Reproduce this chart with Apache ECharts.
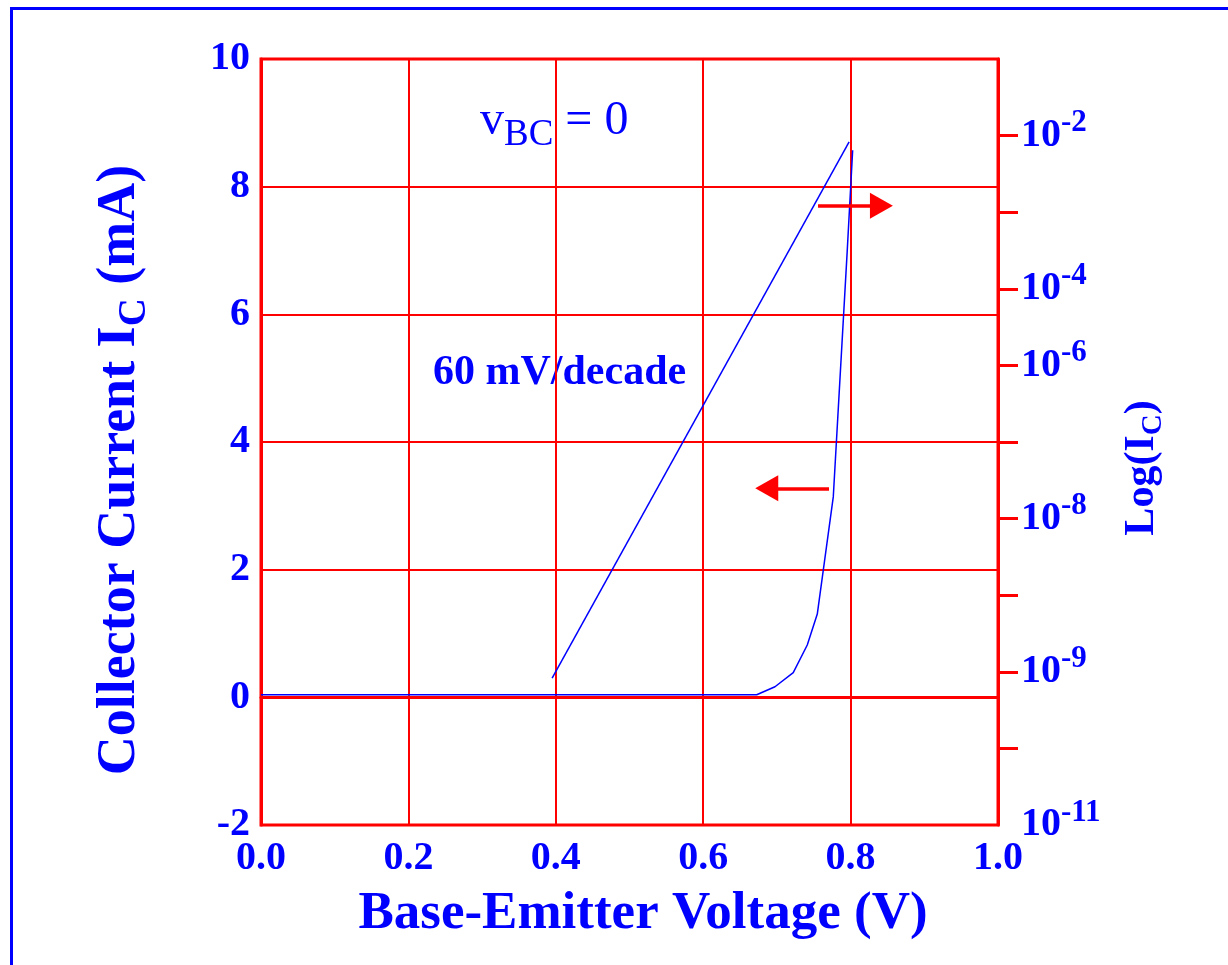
<!DOCTYPE html>
<html>
<head>
<meta charset="utf-8">
<script src="https://cdn.jsdelivr.net/npm/echarts@6/dist/echarts.min.js"></script>
<style>
html, body { margin: 0; padding: 0; background: #fff; }
#chart { width: 1228px; height: 965px; }
</style>
</head>
<body>
<div id="chart"></div>
<script>
// values
const xTicks = [0, 0.2, 0.4, 0.6, 0.8, 1.0];
const leftTicks = [-2, 0, 2, 4, 6, 8, 10];
// right axis: tick positions and the exponents written next to some of them
const rightTickValues = [1, 2, 3, 4, 5, 6, 7, 8, 9];
const rightLabelValues = [0, 2, 4, 6, 7, 9];
const rightLabelExps = ["-11", "-9", "-8", "-6", "-4", "-2"];

// linear I_C curve (left axis, mA)
const vbe = [0, 0.6726, 0.6974, 0.7222, 0.7412, 0.7548, 0.7765, 0.7955, 0.8028];
const icLinear = [0.04, 0.04, 0.166, 0.386, 0.82, 1.305, 3.14, 7.01, 8.57];
// log(I_C) straight line, 60 mV/decade
const vbeLog = [0.395, 0.798];
const icLog = [0.30, 8.70];

// arrows [x0, x1, y] pointing to the axis each curve belongs to
const arrowRight = [0.7558, 0.8418, 7.70];
const arrowLeft = [0.7707, 0.6862, 3.274];

const BLUE = "#0000ff";
const RED = "#ff0000";
const SERIF = "Liberation Serif";

let myChart = echarts.init(document.getElementById("chart"));

const pairs = (xs, ys) => xs.map((x, i) => [x, ys[i]]);
const arrow = (a) => [{ coord: [a[0], a[2]] }, { coord: [a[1], a[2]] }];

let option = {
  animation: false,
  backgroundColor: "#fff",
  grid: {
    left: 261,
    right: 230,
    top: 59,
    bottom: 140,
    show: true,
    borderColor: RED,
    borderWidth: 3,
  },
  xAxis: {
    type: "value",
    min: 0,
    max: 1,
    interval: 0.2,
    axisLine: { lineStyle: { color: RED, width: 3 } },
    axisTick: { show: false },
    splitLine: { lineStyle: { color: RED, width: 2 } },
    axisLabel: {
      color: BLUE,
      fontFamily: SERIF,
      fontWeight: "bold",
      fontSize: 40,
      margin: 14,
      formatter: (v) => v.toFixed(1),
    },
    name: "Base-Emitter Voltage (V)",
    nameLocation: "middle",
    nameGap: 63,
    nameTextStyle: {
      color: BLUE,
      fontFamily: SERIF,
      fontWeight: "bold",
      fontSize: 53,
      padding: [0, 0, 0, 27],
    },
  },
  yAxis: [
    {
      type: "value",
      min: -2,
      max: 10,
      interval: 2,
      axisLine: { show: true, lineStyle: { color: RED, width: 3 } },
      axisTick: { show: false },
      splitLine: { lineStyle: { color: RED, width: 2 } },
      axisLabel: {
        color: BLUE,
        fontFamily: SERIF,
        fontWeight: "bold",
        fontSize: 40,
        margin: 11,
      },
      name: "{a|Collector Current I}{s|C}{a| (mA)}",
      nameLocation: "middle",
      nameRotate: 90,
      nameGap: 114,
      nameTextStyle: {
        padding: [0, 56, 0, 0],
        rich: {
          a: { color: BLUE, fontFamily: SERIF, fontWeight: "bold", fontSize: 54, lineHeight: 54, verticalAlign: "top" },
          s: { color: BLUE, fontFamily: SERIF, fontWeight: "bold", fontSize: 39, lineHeight: 39, padding: [22, 0, 0, 0], verticalAlign: "top" },
        },
      },
    },
    {
      type: "value",
      position: "right",
      min: 0,
      max: 10,
      interval: 1,
      axisLine: { show: true, lineStyle: { color: RED, width: 3 } },
      axisTick: {
        show: true,
        inside: false,
        length: 20,
        customValues: rightTickValues,
        lineStyle: { color: RED, width: 3 },
      },
      splitLine: { show: false },
      axisLabel: {
        margin: 23,
        customValues: rightLabelValues,
        formatter: (v) => {
          const i = rightLabelValues.indexOf(v);
          return i < 0 ? "" : "{b|10}{p|" + rightLabelExps[i] + "}";
        },
        rich: {
          b: { color: BLUE, fontFamily: SERIF, fontWeight: "bold", fontSize: 40, lineHeight: 56, verticalAlign: "middle" },
          p: { color: BLUE, fontFamily: SERIF, fontWeight: "bold", fontSize: 31, lineHeight: 31, verticalAlign: "top" },
        },
      },
      name: "{a|Log(I}{s|C}{a|)}",
      nameLocation: "middle",
      nameRotate: 90,
      nameGap: 123,
      nameTextStyle: {
        padding: [0, 52, 0, 0],
        rich: {
          a: { color: BLUE, fontFamily: SERIF, fontWeight: "bold", fontSize: 42, lineHeight: 42, verticalAlign: "top" },
          s: { color: BLUE, fontFamily: SERIF, fontWeight: "bold", fontSize: 29, lineHeight: 29, padding: [18, 0, 0, 0], verticalAlign: "top" },
        },
      },
    },
  ],
  series: [
    {
      name: "IC",
      type: "line",
      yAxisIndex: 0,
      data: pairs(vbe, icLinear),
      showSymbol: false,
      lineStyle: { color: BLUE, width: 1.5 },
      z: 3,
    },
    {
      name: "logIC",
      type: "line",
      yAxisIndex: 0,
      data: pairs(vbeLog, icLog),
      showSymbol: false,
      lineStyle: { color: BLUE, width: 1.5 },
      z: 3,
      markLine: {
        silent: true,
        symbol: ["none", "triangle"],
        symbolSize: [26, 23],
        label: { show: false },
        lineStyle: { color: RED, width: 3.5, type: "solid" },
        data: [arrow(arrowRight), arrow(arrowLeft)],
      },
    },
  ],
  graphic: [
    {
      type: "rect",
      shape: { x: 11.5, y: 8.5, width: 2000, height: 2000 },
      style: { fill: "none", stroke: BLUE, lineWidth: 3 },
      silent: true,
    },
    {
      type: "text",
      left: 480,
      top: 97,
      style: {
        text: "{v|v}{s|BC}{v| = 0}",
        rich: {
          v: { fill: BLUE, fontFamily: SERIF, fontSize: 48, lineHeight: 48, verticalAlign: "top" },
          s: { fill: BLUE, fontFamily: SERIF, fontSize: 37, lineHeight: 37, padding: [20, 0, 0, 0], verticalAlign: "top" },
        },
      },
    },
    {
      type: "text",
      left: 433,
      top: 352,
      style: {
        text: "60 mV/decade",
        fill: BLUE,
        font: "bold 42px 'Liberation Serif'",
      },
    },
  ],
};

option && myChart.setOption(option);
window.addEventListener("resize", function () {
  myChart && myChart.resize();
});
</script>
</body>
</html>
